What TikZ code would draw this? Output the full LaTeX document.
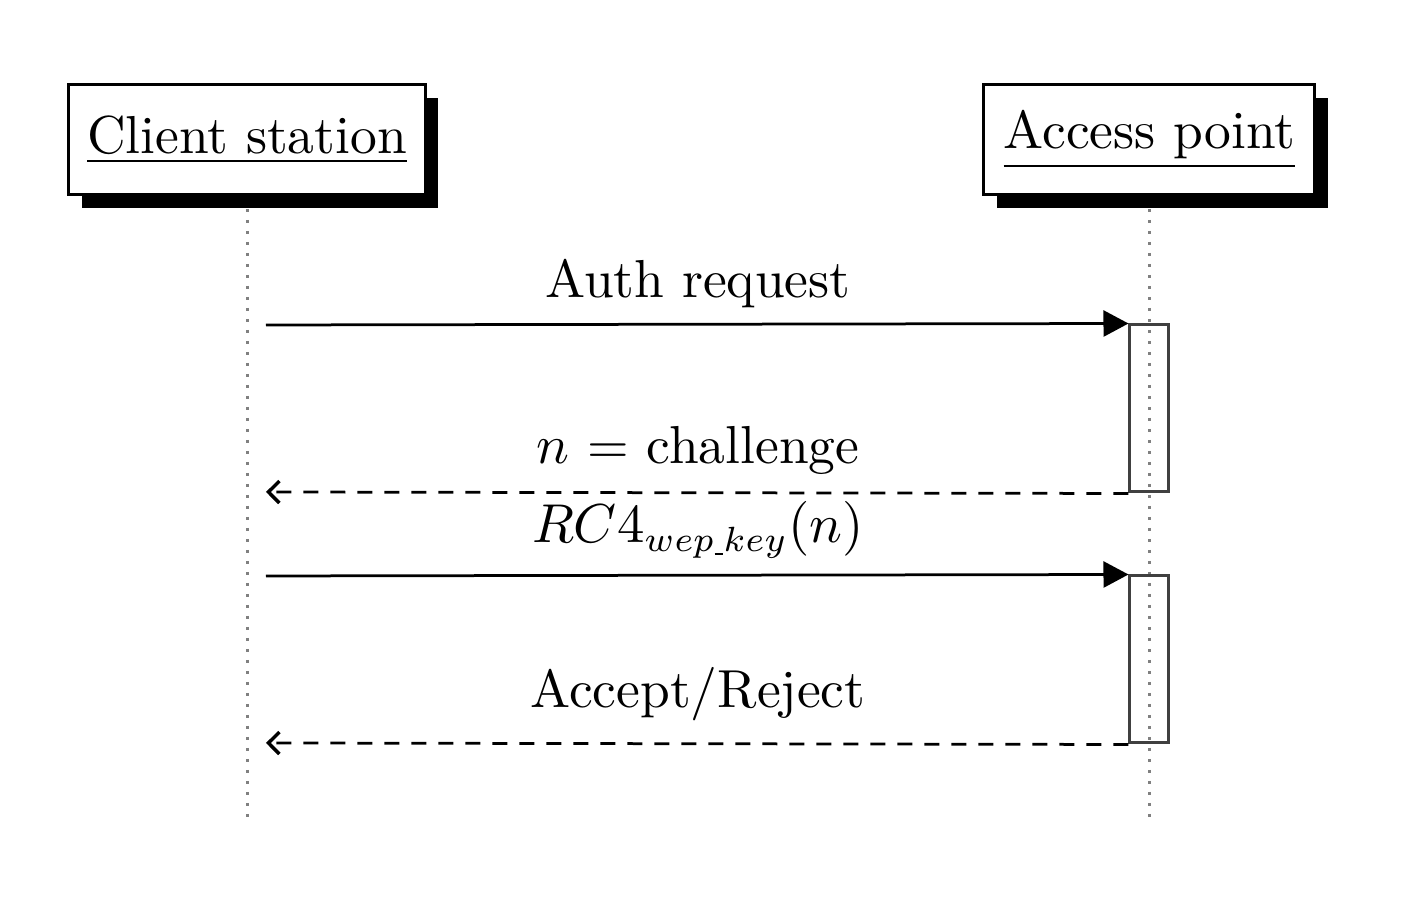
\documentclass[tikz,border=0pt]{standalone}
\usepackage{fontspec}
\usetikzlibrary{arrows.meta,shadows,backgrounds}
\newcommand{\shortus}{\kern0.15pt\vrule width 1.6pt height -0.35pt depth 0.8pt\kern0.15pt}
\begin{document}
\begin{tikzpicture}[x=0.2pt,y=-0.2pt,
  lbl/.style={font=\fontsize{10.7}{12.8}\selectfont, inner sep=0pt, anchor=base},
  header/.style={draw=black, line width=0.6pt, fill=white, minimum height=22pt,
    font=\fontsize{10.7}{12.8}\selectfont,
    drop shadow={shadow xshift=2.6pt, shadow yshift=-2.6pt, fill=black, opacity=1}},
  life/.style={draw=gray, line width=0.6pt, dash pattern=on 0.6pt off 1.6pt},
  actbox/.style={draw=black!75, line width=0.6pt, minimum width=7.8pt, inner sep=0pt},
  msg/.style={line width=0.55pt, -{Triangle[length=5pt,width=5.2pt]}},
  ret/.style={line width=0.55pt, dash pattern=on 3pt off 2.4pt, -{Straight Barb[length=2.2pt,width=4.4pt,line width=0.7pt]}}
]
\useasboundingbox (0,0) rectangle (1406,904);
\node[header, minimum width=71.2pt] (client) at (247,140) {\underline{Client station}};
\node[header, minimum width=66.2pt] (ap) at (1149.5,140) {\underline{Access point}};
\coordinate (cend) at (248,825);
\coordinate (aend) at (1150,825);
\node[actbox, minimum height=33.4pt] (act1) at (1149.5,408.5) {};
\node[actbox, minimum height=33.4pt] (act2) at (1149.5,659.5) {};
\coordinate (c1) at (266,325);
\coordinate (c2) at (266,492);
\coordinate (c3) at (266,576);
\coordinate (c4) at (266,743);
\begin{scope}[on background layer]
\draw[life] (248,209) -- (cend);
\draw[life] (1150,209) -- (aend);
\end{scope}
\draw[msg] (c1) -- (act1.north west);
\draw[ret] (act1.south west) -- (c2);
\draw[msg] (c3) -- (act2.north west);
\draw[ret] (act2.south west) -- (c4);
\node[lbl] (l1) at (698,298) {Auth request};
\node[lbl] (l2) at (698,464) {$n$ = challenge};
\node[lbl] (l3) at (698,543) {$RC4_{wep\shortus key}(n)$};
\node[lbl] (l4) at (698,708) {Accept/Reject};
\end{tikzpicture}
\end{document}
